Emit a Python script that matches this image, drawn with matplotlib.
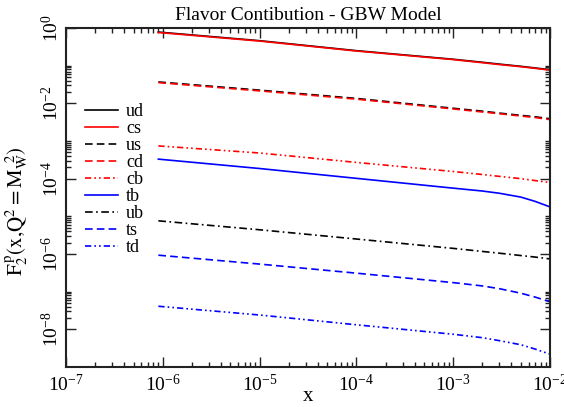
import matplotlib
matplotlib.use("Agg")
import matplotlib.pyplot as plt
from matplotlib.ticker import FixedLocator, LogFormatterMathtext, NullFormatter

plt.rcParams['font.family'] = ['Liberation Serif', 'DejaVu Serif']
plt.rcParams['mathtext.fontset'] = 'stix'
plt.rcParams['lines.scale_dashes'] = False

# data
x = [9e-7, 1e-5, 1e-4, 1e-3, 2e-3, 3e-3, 5e-3, 7e-3, 1e-2]
ud = [0.78, 0.46, 0.25, 0.148, 0.123, 0.110, 0.096, 0.087, 0.078]
cs = [0.76, 0.45, 0.245, 0.145, 0.120, 0.107, 0.094, 0.085, 0.076]
us = [0.037, 0.0224, 0.0135, 0.0074, 0.0062, 0.0055, 0.0048, 0.0044, 0.0039]
cd = [0.0355, 0.0214, 0.0129, 0.0071, 0.0059, 0.0053, 0.0046, 0.0042, 0.0037]
cb = [7.4e-4, 4.8e-4, 2.7e-4, 1.55e-4, 1.29e-4, 1.15e-4, 1.0e-4, 8.9e-5, 7.9e-5]
tb = [3.3e-4, 1.86e-4, 1.02e-4, 5.6e-5, 4.7e-5, 4.1e-5, 3.24e-5, 2.5e-5, 1.78e-5]
ub = [7.6e-6, 4.4e-6, 2.5e-6, 1.41e-6, 1.17e-6, 1.05e-6, 9.1e-7, 8.3e-7, 7.4e-7]
ts = [9.3e-7, 5.4e-7, 3.1e-7, 1.74e-7, 1.42e-7, 1.20e-7, 9.1e-8, 7.2e-8, 5.4e-8]
td = [4.1e-8, 2.4e-8, 1.32e-8, 7.4e-9, 6.0e-9, 5.0e-9, 3.9e-9, 3.0e-9, 2.19e-9]

labels = ['ud', 'cs', 'us', 'cd', 'cb', 'tb', 'ub', 'ts', 'td']
series = [ud, cs, us, cd, cb, tb, ub, ts, td]

dashed = (0, (5.5, 3.0))
dashdot = (0, (5.5, 2.5, 1.2, 2.5))
dashdotdot = (0, (4.5, 2.2, 1.2, 2.2, 1.2, 2.2))
styles = [
    ('black', '-'), ('red', '-'), ('black', dashed), ('red', dashed),
    ('red', dashdotdot), ('blue', '-'), ('black', dashdot), ('blue', dashed),
    ('blue', dashdotdot),
]

fig = plt.figure(figsize=(5.64, 4.07), dpi=100)
ax = fig.add_axes([66/564, 40/407, 484/564, 339/407])

for lab, ys, (c, ls) in zip(labels, series, styles):
    ax.plot(x, ys, color=c, linestyle=ls, lw=1.2, label=lab)

ax.set_xscale('log')
ax.set_yscale('log')
ax.set_xlim(1e-7, 1e-2)
ax.set_ylim(1e-9, 1e0)

# ticks
ax.xaxis.set_major_locator(FixedLocator([1e-7, 1e-6, 1e-5, 1e-4, 1e-3, 1e-2]))
xmin = [k * 10.0**e for e in range(-7, -2) for k in range(2, 10)]
ax.xaxis.set_minor_locator(FixedLocator(xmin))
ax.xaxis.set_major_formatter(LogFormatterMathtext())
ax.xaxis.set_minor_formatter(NullFormatter())

ax.yaxis.set_major_locator(FixedLocator([1e-8, 1e-6, 1e-4, 1e-2, 1e0]))
ymin = [k * 10.0**e for e in (-8, -6, -4, -2) for k in range(2, 11)]
ax.yaxis.set_minor_locator(FixedLocator(ymin))
ax.yaxis.set_major_formatter(LogFormatterMathtext())
ax.yaxis.set_minor_formatter(NullFormatter())

ax.tick_params(which='both', direction='in', top=True, right=True, width=1.0, color='#222222')
ax.tick_params(which='major', length=7, labelsize=14)
ax.tick_params(which='minor', length=3.5)
ax.tick_params(axis='x', which='major', pad=5)
ax.tick_params(axis='y', which='major', pad=3)
for lab in ax.get_yticklabels():
    lab.set_rotation(90)
    lab.set_va('center')
for s in ax.spines.values():
    s.set_linewidth(1.5)
    s.set_color('#222222')

ax.set_title('Flavor Contibution - GBW Model', fontsize=14, pad=6)
ax.set_xlabel('x', fontsize=15, labelpad=-6)
ax.set_ylabel(r'$\mathrm{F}_2^{\,\mathrm{p}}\mathrm{(x{,}Q}^2\mathrm{=M}_\mathrm{W}^{\;\;2}\mathrm{)}$', fontsize=15)
ax.yaxis.set_label_coords(-0.074, 0.46)

ax.legend(loc='upper left', bbox_to_anchor=(0.025, 0.80), frameon=False, fontsize=13,
          handlelength=1.8, handletextpad=0.45, labelspacing=0.0, borderaxespad=0.0)

fig.savefig('out.png', dpi=100)
